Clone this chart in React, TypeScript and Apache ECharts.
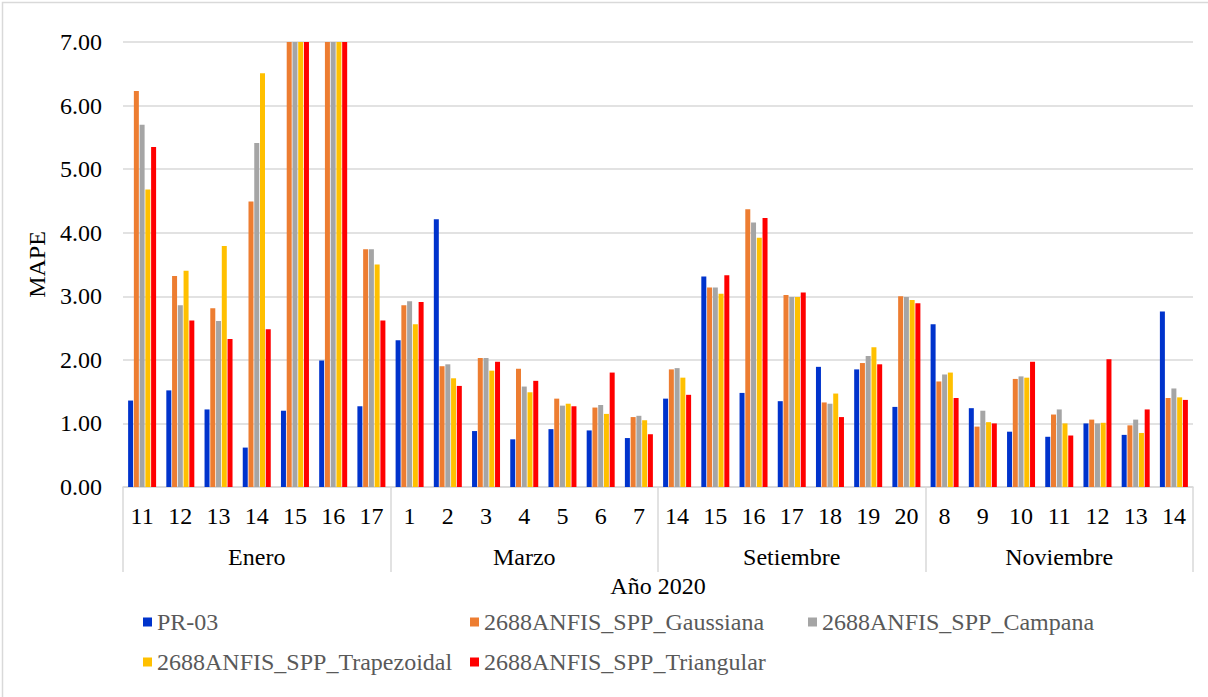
import React, { useEffect, useRef } from "react";
import * as echarts from "echarts";

const months = ["Enero", "Marzo", "Setiembre", "Noviembre"];
const daysEnero = ["11", "12", "13", "14", "15", "16", "17"];
const daysMarzo = ["1", "2", "3", "4", "5", "6", "7"];
const daysSetiembre = ["14", "15", "16", "17", "18", "19", "20"];
const daysNoviembre = ["8", "9", "10", "11", "12", "13", "14"];
const yTicks = [0, 1, 2, 3, 4, 5, 6, 7];

const seriesNames = [
  "PR-03",
  "2688ANFIS_SPP_Gaussiana",
  "2688ANFIS_SPP_Campana",
  "2688ANFIS_SPP_Trapezoidal",
  "2688ANFIS_SPP_Triangular",
];
const colors = ["#0033CC", "#ED7D31", "#A5A5A5", "#FFC000", "#FF0000"];

const pr03 = [1.36, 1.52, 1.22, 0.62, 1.2, 1.99, 1.27, 2.31, 4.21, 0.88, 0.75, 0.91, 0.89, 0.77, 1.39, 3.31, 1.48, 1.35, 1.89, 1.85, 1.26, 2.56, 1.24, 0.87, 0.79, 1.0, 0.82, 2.76];
const gaussiana = [6.23, 3.32, 2.81, 4.49, 7, 7, 3.74, 2.86, 1.9, 2.03, 1.86, 1.39, 1.25, 1.1, 1.85, 3.14, 4.37, 3.02, 1.33, 1.95, 3.0, 1.66, 0.95, 1.7, 1.14, 1.06, 0.97, 1.4];
const campana = [5.7, 2.86, 2.61, 5.41, 7, 7, 3.74, 2.92, 1.93, 2.03, 1.58, 1.28, 1.29, 1.12, 1.87, 3.14, 4.16, 2.99, 1.31, 2.06, 2.99, 1.77, 1.2, 1.74, 1.22, 1.0, 1.06, 1.55];
const trapezoidal = [4.68, 3.4, 3.79, 6.51, 7, 7, 3.5, 2.56, 1.71, 1.83, 1.49, 1.31, 1.15, 1.05, 1.72, 3.04, 3.92, 2.99, 1.47, 2.2, 2.94, 1.8, 1.02, 1.72, 1.0, 1.01, 0.85, 1.41];
const triangular = [5.35, 2.62, 2.33, 2.48, 7, 7, 2.62, 2.91, 1.59, 1.97, 1.67, 1.27, 1.8, 0.83, 1.45, 3.33, 4.23, 3.06, 1.1, 1.93, 2.89, 1.4, 1.0, 1.97, 0.81, 2.01, 1.22, 1.37];

const seriesData = [pr03, gaussiana, campana, trapezoidal, triangular];
const dayGroups = [daysEnero, daysMarzo, daysSetiembre, daysNoviembre];

const FONT = "Liberation Serif";
const FS = 24;

export default function App() {
  const ref = useRef<HTMLDivElement>(null);
  useEffect(() => {
    if (!ref.current) return;
    const chart = echarts.init(ref.current, null, { renderer: "svg" });
    const categories: string[] = [];
    months.forEach((m, i) => dayGroups[i].forEach((d) => categories.push(m + "|" + d)));

    const legendPos = [
      { left: 143, top: 610 },
      { left: 470, top: 610 },
      { left: 808, top: 610 },
      { left: 143, top: 650 },
      { left: 470, top: 650 },
    ];

    chart.setOption({
      animation: false,
      grid: { left: 123, right: 15, top: 42, bottom: 210 },
      legend: seriesNames.map((n, i) => ({
        data: [n],
        left: legendPos[i].left,
        top: legendPos[i].top,
        padding: 0,
        icon: "rect",
        itemWidth: 9,
        itemHeight: 9,
        textStyle: { fontFamily: FONT, fontSize: FS, color: "#595959" },
      })),
      xAxis: [
        {
          type: "category",
          data: categories,
          position: "bottom",
          axisLine: { show: true, lineStyle: { color: "#d9d9d9", width: 1.5 } },
          axisTick: { show: false },
          axisLabel: {
            fontFamily: FONT,
            fontSize: FS,
            color: "#000000",
            interval: 0,
            margin: 17,
            formatter: (v: string) => v.split("|")[1],
          },
        },
        {
          type: "category",
          data: months,
          position: "bottom",
          gridIndex: 0,
          axisLine: { show: false },
          axisTick: { show: true, length: 85, interval: 0, lineStyle: { color: "#d9d9d9", width: 1.5 } },
          axisLabel: { fontFamily: FONT, fontSize: FS, color: "#000000", interval: 0, margin: 58 },
          name: "Año 2020",
          nameLocation: "middle",
          nameGap: 80,
          nameTextStyle: { fontFamily: FONT, fontSize: FS, color: "#000000" },
        },
      ],
      yAxis: {
        type: "value",
        min: yTicks[0],
        max: yTicks[yTicks.length - 1],
        interval: 1,
        name: "MAPE",
        nameLocation: "middle",
        nameGap: 72,
        nameTextStyle: { fontFamily: FONT, fontSize: FS, color: "#000000" },
        axisLine: { show: false },
        axisTick: { show: false },
        axisLabel: {
          fontFamily: FONT,
          fontSize: FS,
          color: "#000000",
          margin: 21,
          formatter: (v: number) => v.toFixed(2),
        },
        splitLine: { show: true, lineStyle: { color: "#d9d9d9", width: 1.5 } },
      },
      series: seriesNames.map((n, i) => ({
        name: n,
        type: "bar",
        data: seriesData[i],
        barWidth: 5,
        barGap: "15%",
        itemStyle: { color: colors[i] },
      })),
      graphic: [
        {
          type: "rect",
          left: 0,
          top: 0,
          shape: { x: 0, y: 0, width: 1207, height: 696 },
          style: { fill: "none", stroke: "#d9d9d9", lineWidth: 1.5 },
          silent: true,
        },
      ],
    });
    return () => chart.dispose();
  }, []);
  return (
    <div
      ref={ref}
      style={{ position: "fixed", left: 0, top: 0, width: 1208, height: 697, background: "#ffffff" }}
    />
  );
}
